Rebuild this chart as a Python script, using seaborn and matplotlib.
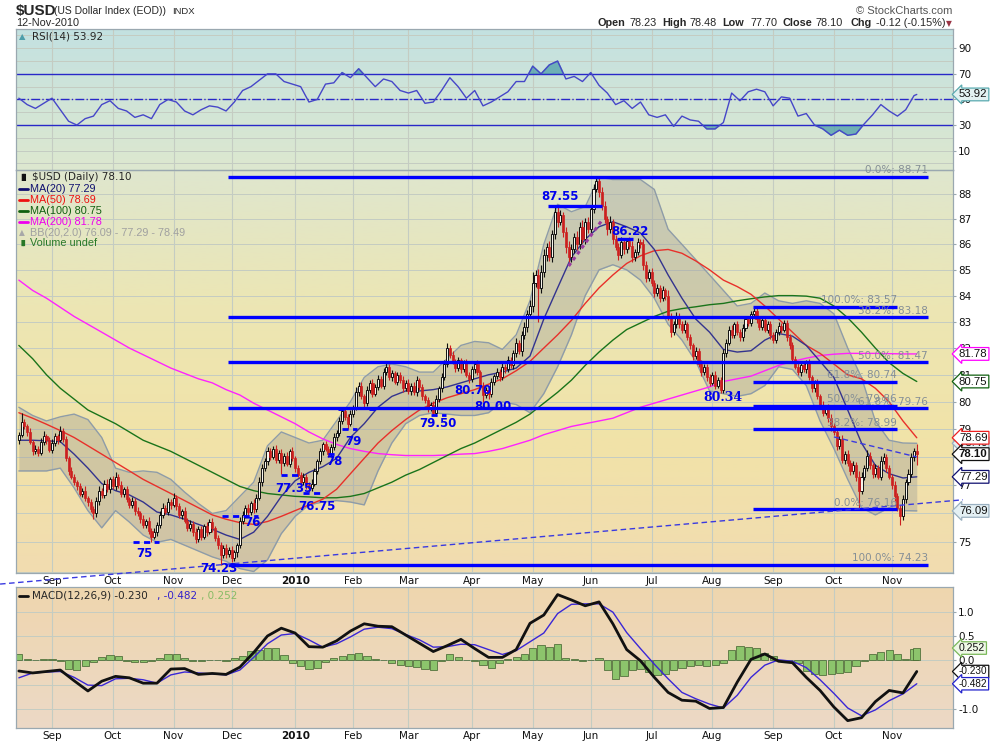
import numpy as np
import pandas as pd
import matplotlib
matplotlib.use('Agg')
import matplotlib.pyplot as plt
from matplotlib.colors import LinearSegmentedColormap
from matplotlib.lines import Line2D
import seaborn as sns

sns.set_style('white')
plt.rcParams['font.family'] = ['DejaVu Sans']
NARROW = ['Liberation Sans', 'DejaVu Sans']

# ---------------- data ----------------
days = pd.bdate_range('2009-08-14', '2010-11-12')   # trading days, 326
first_open = 78.60
close = [
    78.80, 79.25, 79.10, 78.90, 78.55, 78.20, 78.30, 78.15, 78.55, 78.75,
    78.60, 78.25, 78.50, 78.75, 78.60, 78.95, 78.65, 77.95, 77.50, 77.30,
    77.10, 76.95, 76.70, 76.80, 76.55, 76.40, 76.15, 76.00, 76.45, 76.80,
    76.65, 77.05, 76.85, 77.20, 76.95, 77.30, 77.00, 76.70, 76.85, 76.50,
    76.30, 76.45, 76.10, 76.00, 75.80, 75.60, 75.75, 75.40, 75.20, 75.35,
    75.60, 75.95, 76.20, 76.05, 76.40, 76.30, 76.55, 76.25, 75.95, 76.10,
    75.75, 75.50, 75.65, 75.35, 75.10, 75.45, 75.20, 75.55, 75.35, 75.70,
    75.50, 75.15, 74.90, 74.55, 74.80, 74.60, 74.75, 74.45, 74.65, 74.90,
    75.75, 75.95, 76.20, 76.05, 76.35, 76.15, 76.55, 77.10, 77.60, 77.85,
    78.20, 78.00, 78.30, 77.90, 78.15, 77.80, 78.05, 77.75, 78.20, 77.95,
    77.60, 77.35, 77.10, 77.30, 77.00, 76.90, 77.05, 77.50, 77.85, 78.20,
    78.45, 78.30, 78.10, 78.35, 78.70, 78.85, 79.30, 79.65, 79.45, 79.20,
    79.55, 79.80, 80.35, 80.60, 80.20, 79.95, 80.45, 80.70, 80.30, 80.55,
    80.85, 80.60, 81.10, 81.30, 80.90, 81.05, 80.75, 81.00, 80.80, 80.50,
    80.70, 80.40, 80.60, 80.35, 80.80, 80.55, 80.20, 80.05, 79.75, 79.90,
    79.60, 80.10, 80.50, 80.90, 81.40, 82.00, 81.75, 81.50, 81.25, 81.55,
    81.20, 81.45, 81.00, 80.85, 81.20, 81.40, 81.10, 80.60, 80.25, 80.45,
    80.30, 80.75, 80.95, 81.10, 80.90, 81.30, 81.20, 81.55, 81.35, 81.80,
    82.20, 81.90, 82.50, 82.80, 83.30, 83.60, 84.50, 84.80, 84.30, 84.90,
    85.60, 85.90, 85.50, 86.40, 87.30, 86.90, 87.15, 86.50, 85.90, 85.50,
    85.80, 86.30, 86.00, 86.70, 86.20, 86.90, 86.60, 87.40, 88.20, 88.55,
    88.10, 87.55, 87.00, 86.60, 86.90, 86.20, 85.90, 85.60, 86.10, 85.80,
    86.15, 85.95, 85.50, 85.70, 86.10, 86.00, 85.20, 84.70, 84.90, 84.50,
    84.10, 84.30, 83.90, 84.20, 84.00, 83.20, 82.60, 82.90, 83.20, 82.90,
    82.70, 82.90, 82.40, 82.10, 81.70, 81.90, 81.40, 81.10, 81.30, 80.90,
    80.70, 81.00, 80.60, 80.80, 80.45, 81.80, 82.20, 82.70, 82.50, 82.90,
    82.60, 82.40, 82.75, 83.10, 82.95, 83.30, 83.40, 83.10, 82.80, 83.05,
    82.70, 82.90, 82.50, 82.30, 82.60, 82.85, 82.70, 82.95, 82.40, 82.10,
    81.60, 81.30, 81.10, 81.35, 81.20, 81.45, 80.90, 80.50, 80.70, 80.20,
    79.90, 79.60, 79.80, 79.40, 79.10, 78.90, 78.40, 78.65, 77.90, 78.10,
    77.80, 77.50, 77.70, 77.30, 76.80, 77.30, 77.60, 78.05, 77.70, 77.40,
    77.60, 77.30, 77.85, 78.00, 77.60, 77.30, 77.00, 76.60, 76.20, 75.90,
    76.50, 77.10, 77.40, 78.00, 78.23, 78.10]
# wick lengths above / below the body, in hundredths
wick_up = [
    10, 35, 12, 8, 15, 6, 14, 9, 12, 18, 7, 10, 14, 11, 6, 15, 9, 12, 8, 14,
    10, 7, 13, 9, 15, 8, 12, 10, 14, 18, 9, 12, 16, 8, 11, 15, 10, 13, 7, 12,
    9, 14, 8, 11, 10, 13, 7, 12, 9, 15, 10, 12, 16, 8, 14, 10, 18, 9, 12, 7,
    11, 9, 13, 8, 14, 10, 12, 9, 15, 11, 13, 8, 10, 12, 9, 14, 8, 11, 10, 9,
    12, 15, 10, 14, 9, 16, 12, 18, 14, 10, 15, 12, 9, 14, 11, 13, 8, 12, 10, 15,
    9, 12, 10, 14, 8, 11, 15, 12, 9, 13, 10, 14, 8, 12, 15, 11, 13, 10, 9, 12,
    14, 10, 18, 12, 15, 9, 13, 10, 16, 11, 14, 12, 15, 20, 10, 13, 9, 12, 11, 14,
    10, 13, 9, 12, 15, 8, 11, 10, 14, 9, 12, 15, 10, 18, 14, 20, 12, 15, 10, 13,
    9, 12, 14, 10, 13, 11, 15, 9, 12, 10, 14, 12, 9, 15, 11, 13, 10, 16, 12, 14,
    18, 12, 15, 20, 14, 25, 40, 18, 22, 30, 20, 15, 25, 18, 25, 20, 22, 15, 18, 25,
    20, 15, 22, 18, 25, 14, 20, 18, 22, 16, 10, 18, 20, 14, 22, 12, 18, 15, 20, 12,
    7, 14, 18, 12, 15, 10, 20, 15, 12, 18, 10, 14, 12, 16, 9, 22, 15, 12, 18, 14,
    12, 15, 10, 14, 9, 13, 11, 15, 10, 12, 14, 9, 13, 10, 12, 18, 15, 12, 16, 10,
    14, 12, 15, 10, 13, 12, 17, 15, 12, 10, 14, 11, 13, 9, 12, 15, 10, 13, 11, 14,
    12, 10, 14, 9, 13, 11, 15, 10, 12, 14, 10, 13, 9, 12, 15, 11, 14, 10, 13, 12,
    15, 10, 14, 12, 18, 15, 12, 20, 14, 10, 15, 12, 18, 14, 10, 12, 9, 14, 11, 10,
    15, 12, 18, 14, 10, 25]
wick_dn = [
    12, 10, 8, 15, 9, 14, 10, 12, 8, 11, 14, 9, 12, 10, 15, 8, 12, 10, 14, 9,
    11, 13, 8, 12, 10, 15, 9, 20, 11, 14, 10, 12, 8, 13, 9, 12, 10, 14, 11, 9,
    12, 10, 14, 9, 13, 11, 10, 12, 20, 9, 13, 10, 12, 8, 11, 14, 9, 12, 10, 13,
    9, 12, 10, 14, 11, 9, 13, 10, 12, 8, 14, 10, 12, 32, 10, 13, 9, 12, 10, 15,
    8, 12, 10, 14, 9, 12, 10, 8, 12, 10, 15, 11, 9, 13, 10, 40, 12, 9, 11, 10,
    13, 5, 12, 9, 14, 15, 11, 10, 12, 9, 13, 10, 10, 12, 9, 14, 10, 12, 11, 20,
    10, 12, 9, 14, 11, 15, 10, 12, 13, 9, 12, 10, 14, 11, 9, 12, 10, 13, 9, 12,
    11, 10, 14, 9, 12, 10, 13, 9, 12, 10, 10, 12, 9, 14, 10, 12, 11, 9, 13, 10,
    12, 10, 9, 15, 11, 13, 10, 12, 25, 10, 20, 12, 14, 9, 12, 10, 13, 11, 9, 12,
    14, 12, 18, 15, 20, 14, 22, 18, 130, 20, 18, 25, 15, 20, 18, 22, 15, 20, 25, 18,
    20, 15, 22, 18, 16, 20, 14, 18, 15, 12, 20, 18, 15, 22, 14, 18, 12, 20, 15, 18,
    12, 15, 18, 14, 12, 15, 20, 18, 14, 12, 16, 13, 15, 12, 18, 14, 20, 12, 15, 13,
    12, 14, 10, 13, 15, 11, 12, 14, 10, 13, 12, 9, 14, 10, 11, 12, 15, 10, 13, 12,
    10, 14, 12, 9, 13, 11, 12, 15, 10, 13, 11, 12, 14, 10, 12, 9, 13, 11, 12, 14,
    13, 10, 12, 14, 11, 12, 10, 15, 12, 10, 14, 12, 10, 13, 15, 12, 14, 10, 13, 15,
    12, 14, 10, 15, 64, 12, 14, 10, 13, 15, 12, 10, 14, 12, 15, 10, 13, 15, 12, 30,
    12, 15, 10, 13, 14, 40]

# overlays sampled every 5 trading days
ma_days = list(range(0, 326, 5))
ma20 = [78.60, 78.60, 78.58, 78.55, 78.10, 77.60, 77.05, 76.80, 76.65, 76.40,
        76.05, 75.95, 75.80, 75.62, 75.45, 75.25, 75.10, 75.35, 75.90, 76.60,
        77.15, 77.45, 77.65, 77.95, 78.70, 79.20, 79.80, 80.20, 80.40, 80.40,
        80.45, 80.55, 80.70, 80.85, 81.00, 81.10, 81.25, 81.70, 83.10, 84.30,
        85.50, 86.20, 86.70, 86.90, 86.70, 86.45, 85.80, 84.80, 83.90, 83.10,
        82.60, 81.95, 81.85, 81.90, 82.30, 82.55, 82.45, 82.10, 81.50, 80.90,
        79.70, 78.50, 77.70, 77.40, 77.25, 77.29]
ma50 = [79.60, 79.40, 79.18, 78.95, 78.70, 78.40, 78.10, 77.80, 77.50, 77.20,
        76.95, 76.70, 76.45, 76.20, 75.95, 75.80, 75.68, 75.62, 75.72, 75.90,
        76.10, 76.30, 76.50, 76.85, 77.40, 77.95, 78.50, 78.95, 79.35, 79.70,
        79.95, 80.15, 80.30, 80.45, 80.65, 80.85, 81.15, 81.50, 82.00, 82.50,
        83.05, 83.70, 84.30, 84.80, 85.25, 85.55, 85.75, 85.80, 85.65, 85.35,
        85.00, 84.60, 84.35, 84.05, 83.60, 83.10, 82.60, 82.10, 81.80, 81.40,
        81.00, 80.85, 80.50, 80.00, 79.30, 78.69]
ma100 = [82.10, 81.60, 81.00, 80.50, 80.10, 79.70, 79.45, 79.20, 78.90, 78.60,
         78.40, 78.20, 77.95, 77.70, 77.45, 77.20, 76.95, 76.80, 76.70, 76.65,
         76.60, 76.58, 76.55, 76.55, 76.60, 76.70, 76.90, 77.10, 77.35, 77.55,
         77.80, 78.05, 78.30, 78.50, 78.75, 79.00, 79.25, 79.55, 79.95, 80.35,
         80.80, 81.35, 81.85, 82.30, 82.70, 82.95, 83.20, 83.40, 83.50, 83.57,
         83.65, 83.70, 83.80, 83.88, 83.95, 84.00, 84.00, 83.98, 83.90, 83.60,
         83.15, 82.60, 82.00, 81.45, 81.05, 80.75]
ma200 = [84.60, 84.20, 83.90, 83.55, 83.20, 82.90, 82.60, 82.30, 82.00, 81.75,
         81.50, 81.25, 81.05, 80.85, 80.70, 80.45, 80.25, 79.95, 79.70, 79.45,
         79.20, 78.90, 78.65, 78.45, 78.30, 78.20, 78.12, 78.08, 78.05, 78.05,
         78.05, 78.07, 78.10, 78.12, 78.20, 78.30, 78.45, 78.60, 78.80, 78.95,
         79.10, 79.20, 79.30, 79.40, 79.60, 79.80, 79.95, 80.10, 80.25, 80.40,
         80.55, 80.75, 80.85, 80.95, 81.15, 81.35, 81.50, 81.62, 81.72, 81.77,
         81.80, 81.80, 81.80, 81.79, 81.78, 81.78]
bb_upper = [79.80, 79.50, 79.30, 79.45, 79.55, 79.35, 78.70, 77.60, 77.45, 77.50,
            77.45, 77.20, 76.75, 76.35, 76.00, 76.10, 76.60, 77.10, 78.40, 78.90,
            78.70, 78.50, 78.60, 79.30, 80.00, 80.90, 81.30, 81.40, 81.30, 81.10,
            81.10, 81.60, 82.10, 82.25, 82.20, 81.95, 82.50, 83.80, 86.00, 87.60,
            87.30, 87.50, 88.70, 88.60, 88.60, 88.60, 88.20, 86.60, 86.00, 85.40,
            84.80, 84.20, 83.60, 83.70, 84.10, 83.80, 83.70, 83.80, 83.70, 83.30,
            82.00, 80.90, 79.30, 78.60, 78.50, 78.49]
bb_lower = [77.50, 77.50, 77.50, 77.60, 76.90, 76.10, 75.50, 76.10, 75.70, 75.25,
            75.00, 75.10, 74.90, 74.70, 74.50, 74.35, 74.10, 74.00, 74.40, 75.30,
            75.90, 76.30, 76.40, 76.45, 76.40, 76.30, 77.50, 78.50, 79.20, 79.50,
            79.60, 79.55, 79.50, 79.50, 79.60, 80.00, 79.90, 79.60, 80.30, 81.30,
            82.50, 84.00, 85.00, 85.20, 85.00, 84.60, 83.90, 82.90, 82.30, 81.50,
            80.40, 80.30, 80.20, 80.30, 80.60, 81.30, 81.20, 80.60, 79.30, 78.30,
            77.20, 76.20, 75.95, 76.20, 76.10, 76.09]
macd_line = [-0.22, -0.26, -0.23, -0.20, -0.42, -0.63, -0.43, -0.33, -0.36, -0.47,
             -0.47, -0.18, -0.17, -0.29, -0.27, -0.29, -0.14, 0.16, 0.50, 0.66,
             0.56, 0.28, 0.27, 0.40, 0.60, 0.75, 0.70, 0.69, 0.52, 0.35,
             0.18, 0.30, 0.43, 0.24, 0.06, 0.06, 0.22, 0.76, 0.93, 1.35,
             1.24, 1.12, 1.20, 0.75, 0.22, -0.01, -0.35, -0.66, -0.82, -0.84,
             -0.99, -0.97, -0.45, 0.02, 0.13, -0.02, -0.05, -0.35, -0.62, -0.96,
             -1.24, -1.18, -0.85, -0.62, -0.67, -0.230]
macd_signal = [-0.36, -0.26, -0.24, -0.23, -0.35, -0.51, -0.52, -0.38, -0.37, -0.40,
               -0.47, -0.30, -0.24, -0.26, -0.28, -0.30, -0.20, 0.06, 0.34, 0.52,
               0.55, 0.42, 0.27, 0.34, 0.48, 0.64, 0.68, 0.65, 0.53, 0.42,
               0.27, 0.28, 0.33, 0.32, 0.22, 0.12, 0.20, 0.38, 0.56, 0.96,
               1.15, 1.16, 1.16, 0.99, 0.57, 0.24, -0.08, -0.38, -0.66, -0.79,
               -0.90, -0.98, -0.72, -0.35, -0.10, 0.01, -0.02, -0.15, -0.40, -0.68,
               -0.98, -1.14, -1.02, -0.83, -0.69, -0.482]

# oscillators sampled every 3 trading days (+ last day)
osc_days = list(range(0, 325, 3)) + [325]
rsi = [51, 46, 43, 47, 51, 42, 33, 30, 35, 37,
       46, 49, 43, 41, 36, 38, 35, 46, 50, 48,
       41, 38, 42, 45, 44, 41, 48, 57, 60, 65,
       70, 70, 64, 62, 60, 48, 50, 62, 63, 71,
       67, 74, 67, 60, 66, 64, 57, 55, 57, 47,
       48, 57, 67, 60, 51, 57, 45, 48, 52, 56,
       64, 64, 76, 70, 77, 80, 66, 68, 64, 71,
       61, 55, 46, 49, 43, 48, 38, 36, 38, 29,
       37, 34, 33, 27, 27, 32, 55, 49, 56, 58,
       56, 45, 52, 51, 37, 39, 30, 27, 22, 26,
       22, 23, 31, 38, 46, 41, 37, 42, 53, 53.92]
macd_hist = [0.13, 0.02, 0.01, 0.03, 0.03, -0.02, -0.17, -0.19, -0.12, -0.03,
             0.06, 0.11, 0.08, -0.01, -0.03, -0.03, -0.02, 0.05, 0.12, 0.12,
             0.05, -0.01, -0.02, 0.01, 0.00, -0.01, 0.05, 0.09, 0.19, 0.22,
             0.26, 0.26, 0.10, -0.05, -0.12, -0.18, -0.15, -0.04, 0.05, 0.09,
             0.12, 0.16, 0.08, 0.02, 0.01, -0.05, -0.10, -0.12, -0.14, -0.17,
             -0.19, -0.02, 0.12, 0.06, 0.00, -0.02, -0.10, -0.15, -0.05, 0.02,
             0.06, 0.13, 0.25, 0.32, 0.28, 0.33, 0.04, 0.03, -0.02, 0.00,
             0.04, -0.20, -0.38, -0.33, -0.20, -0.17, -0.25, -0.30, -0.28, -0.20,
             -0.15, -0.12, -0.10, -0.12, -0.10, -0.05, 0.22, 0.30, 0.28, 0.25,
             0.15, 0.08, -0.01, 0.00, -0.05, -0.22, -0.28, -0.30, -0.28, -0.27,
             -0.24, -0.12, -0.02, 0.12, 0.18, 0.21, 0.12, 0.03, 0.24, 0.252]

# Fibonacci retracements
fib1_pct = ['0.0%', '38.2%', '50.0%', '61.8%', '100.0%']
fib1_val = [88.71, 83.18, 81.47, 79.76, 74.23]
fib2_pct = ['100.0%', '61.8%', '50.0%', '38.2%', '0.0%']
fib2_val = [83.57, 80.74, 79.86, 78.99, 76.16]

# hand-drawn annotations (text, trading day, price)
note_text = ['87.55', '86.22', '80.70', '80.00', '79.50', '79', '78', '77.35',
             '76.75', '76', '75', '74.23']
note_day = [196, 221, 164.4, 171.6, 151.7, 121, 114.4, 99.6, 108, 84.4, 45.3, 72.4]
note_val = [87.9, 86.5, 80.43, 79.82, 79.22, 78.55, 77.82, 76.89, 76.24, 75.67, 74.63, 74.09]
solid_marks = [(191.5, 211, 87.55), (216.5, 222.3, 86.22)]
dash_marks = [(149, 154.6, 79.5), (117, 122.4, 79.0), (112, 115, 78.1), (95, 102.5, 77.35),
              (103, 109, 76.72), (73.5, 86.6, 75.9), (41.3, 50.7, 75.0),
              (115.5, 119, 79.75), (126.7, 130, 79.75)]
trend_days, trend_vals = [73, 304], [74.23, 76.16]
down_days, down_vals = [295, 325], [78.72, 78.0]
rise_days, rise_vals = [199, 211], [85.15, 86.95]

# ---------------- layout ----------------
W, H = 990, 744
fig = plt.figure(figsize=(W / 100, H / 100), dpi=100)
fig.patch.set_facecolor('white')


def rect(l, t, r, b):
    return [l / W, 1 - b / H, (r - l) / W, (b - t) / H]


def panel(r, colors):
    bg = fig.add_axes(r, zorder=0)
    cmap = LinearSegmentedColormap.from_list('g', colors)
    bg.imshow(np.linspace(0, 1, 256)[:, None], cmap=cmap, aspect='auto',
              extent=[0, 1, 0, 1], origin='upper')
    bg.set_axis_off()
    ax = fig.add_axes(r, zorder=1)
    ax.patch.set_alpha(0)
    for s in ax.spines.values():
        s.set_edgecolor('#9aa8b0')
        s.set_linewidth(0.9)
    return ax


ax_rsi = panel(rect(16, 29.3, 952.7, 170), ['#c3e1e1', '#dde8cf'])
ax = panel(rect(16, 170, 952.7, 572.7), ['#dfe6ce', '#ece6b4', '#f1e3a8', '#f1dcb0'])
ax_m = panel(rect(16, 587.3, 952.7, 727.7), ['#efd6ae', '#ecd9c6'])

xlim = (-1.03, 338.0)
month_pos = [i for i in range(1, len(days)) if days[i].month != days[i - 1].month]
month_lab = [days[i].strftime('%b') if days[i].month != 1 else str(days[i].year)
             for i in month_pos]
grid_c = '#c4ccc2'

for a in (ax_rsi, ax, ax_m):
    a.set_xlim(*xlim)
    for p in month_pos:
        a.axvline(p, color=grid_c, lw=0.8, zorder=0.5)
    a.yaxis.tick_right()
    a.tick_params(axis='y', length=2, pad=2, labelsize=7.5, colors='#9aa8b0',
                  labelcolor='#111111')
    a.set_xlabel('')
    a.set_ylabel('')

# ---------------- RSI ----------------
rd = np.array(osc_days)
rv = np.array(rsi, dtype=float)
for g in range(0, 101, 10):
    ax_rsi.axhline(g, color=grid_c, lw=0.7, zorder=0.5)
sns.lineplot(x=rd, y=rv, ax=ax_rsi, color='#4646c8', lw=1.0, zorder=3)
ax_rsi.fill_between(rd, rv, 70, where=rv > 70, interpolate=True, color='#4e9eaa', alpha=0.75, zorder=2)
ax_rsi.fill_between(rd, rv, 30, where=rv < 30, interpolate=True, color='#4e9eaa', alpha=0.75, zorder=2)
ax_rsi.axhline(70, color='#2828c8', lw=1.0, zorder=2)
ax_rsi.axhline(30, color='#2828c8', lw=1.0, zorder=2)
ax_rsi.axhline(50, color='#2828c8', lw=1.0, ls='-.', zorder=2)
ax_rsi.set_ylim(-5.1, 104.8)
ax_rsi.set_yticks([10, 30, 50, 70, 90])
ax_rsi.set_xticks([])

# ---------------- price ----------------
ax.set_yscale('log')
for g in range(74, 90):
    ax.axhline(g, color=grid_c, lw=0.7, zorder=0.5)

md = np.array(ma_days)
ax.fill_between(md, bb_lower, bb_upper, color='#9c9c98', alpha=0.38, lw=0, zorder=1)
sns.lineplot(x=md, y=bb_upper, ax=ax, color='#8e9ca8', lw=1.0, zorder=1.5)
sns.lineplot(x=md, y=bb_lower, ax=ax, color='#8e9ca8', lw=1.0, zorder=1.5)
sns.lineplot(x=md, y=ma200, ax=ax, color='#ff22ff', lw=1.0, zorder=3)
sns.lineplot(x=md, y=ma100, ax=ax, color='#1a741a', lw=1.0, zorder=3)
sns.lineplot(x=md, y=ma50, ax=ax, color='#e8302a', lw=1.0, zorder=3)
sns.lineplot(x=md, y=ma20, ax=ax, color='#33338e', lw=1.0, zorder=3)

c = np.array(close)
o = np.array([first_open] + close[:-1])
hi = np.maximum(o, c) + np.array(wick_up) / 100
lo = np.minimum(o, c) - np.array(wick_dn) / 100
idx = np.arange(len(c))
up = c >= o
body_lo = np.minimum(o, c)
body_h = np.maximum(np.abs(c - o), 0.02)
ax.vlines(idx[up], lo[up], hi[up], colors='#111111', lw=0.8, zorder=4)
ax.vlines(idx[~up], lo[~up], hi[~up], colors='#cc2020', lw=0.8, zorder=4)
ax.bar(idx[up], body_h[up], bottom=body_lo[up], width=0.75, color='#f7f5ec',
       edgecolor='#111111', lw=0.7, zorder=4.5)
ax.bar(idx[~up], body_h[~up], bottom=body_lo[~up], width=0.75, color='#cc2020',
       edgecolor='#cc2020', lw=0.5, zorder=4.5)

# fib lines
ax.hlines(fib1_val, 75.7, 329, colors='#0000ff', lw=2.4, zorder=5)
ax.hlines(fib2_val, 265.7, 317.8, colors='#0000ff', lw=2.4, zorder=5)
for p, v in zip(fib1_pct, fib1_val):
    ax.annotate(f'{p}: {v:.2f}', (329, v), xytext=(0, 1), textcoords='offset points',
                ha='right', va='bottom', fontsize=7.5, color='#858f96', zorder=6,
                annotation_clip=False)
for p, v in zip(fib2_pct, fib2_val):
    ax.annotate(f'{p}: {v:.2f}', (317.8, v), xytext=(0, 1), textcoords='offset points',
                ha='right', va='bottom', fontsize=7.5, color='#858f96', zorder=6)


# trend lines (straight on the log scale)
def extend(d, v, x0, x1):
    b = (np.log(v[1]) - np.log(v[0])) / (d[1] - d[0])
    return [v[0] * np.exp(b * (x0 - d[0])), v[0] * np.exp(b * (x1 - d[0]))]


ax.plot([-6.8, 341.7], extend(trend_days, trend_vals, -6.8, 341.7), color='#3a3ae0',
        lw=1.0, ls=(0, (4, 2.5)), clip_on=False, zorder=5)
ax.plot(down_days, down_vals, color='#3a3ae0', lw=1.0, ls=(0, (4, 2.5)), zorder=5)
ax.plot(rise_days, rise_vals, color='#9a3aa0', lw=2.2, ls=(0, (1.2, 1.2)), zorder=5)

for x0, x1, v in solid_marks:
    ax.hlines(v, x0, x1, colors='#0000ff', lw=2.4, zorder=6)
for x0, x1, v in dash_marks:
    ax.hlines(v, x0, x1, colors='#0000ff', lw=2.0, linestyles=(0, (2.2, 1.6)), zorder=6)
for t, d, v in zip(note_text, note_day, note_val):
    ax.text(d, v, t, ha='center', va='center', fontsize=8.5, fontweight='bold',
            color='#0000ee', zorder=7, clip_on=False)
ax.text(254.9, 80.15, '80.34', ha='center', va='center', fontsize=9, fontweight='bold',
        family='DejaVu Serif', color='#0000ee', zorder=7)

ax.set_ylim(73.96, 88.99)
ax.set_yticks(list(range(75, 89)))
ax.set_yticklabels([str(v) for v in range(75, 89)])
ax.yaxis.set_minor_locator(matplotlib.ticker.NullLocator())
ax.set_xlim(*xlim)

# ---------------- MACD ----------------
for g in (-1.0, -0.5, 0.0, 0.5, 1.0):
    ax_m.axhline(g, color=grid_c, lw=0.7, zorder=0.5)
ax_m.bar(osc_days, macd_hist, width=2.6, color='#8cc46c', edgecolor='#3f5f2c', lw=0.5, zorder=2)
sns.lineplot(x=md, y=macd_signal, ax=ax_m, color='#3a26d6', lw=1.0, zorder=3)
sns.lineplot(x=md, y=macd_line, ax=ax_m, color='#111111', lw=2.0, zorder=4)
ax_m.set_ylim(-1.385, 1.50)
ax_m.set_yticks([-1.0, 0.0, 0.5, 1.0])
ax_m.set_yticklabels(['-1.0', '0.0', '0.5', '1.0'])
ax_m.set_xlim(*xlim)

for a in (ax, ax_m):
    a.set_xticks(month_pos)
    a.set_xticklabels(month_lab)
    a.tick_params(axis='x', length=0, pad=2.5, labelsize=7.5, labelcolor='#111111')
    for lab in a.get_xticklabels():
        if lab.get_text() == '2010':
            lab.set_fontweight('bold')


# ---------------- value tags ----------------
def tag(a, val, txt, ec, fc='white', bold=False, size=8.2):
    a.annotate(txt, xy=(1, val), xycoords=a.get_yaxis_transform(), xytext=(4.5, 0),
               textcoords='offset points', ha='left', va='center', fontsize=size,
               family=NARROW, fontweight='bold' if bold else 'normal', color='#111111',
               bbox=dict(boxstyle='larrow,pad=0.12', fc=fc, ec=ec, lw=0.9),
               annotation_clip=False, zorder=10)


tag(ax_rsi, rsi[-1], f'{rsi[-1]:.2f}', '#5aaab0', '#e2f2f2')
tag(ax, ma200[-1], f'{ma200[-1]:.2f}', '#ff00ff')
tag(ax, ma100[-1], f'{ma100[-1]:.2f}', '#106010')
tag(ax, bb_upper[-1], f'{bb_upper[-1]:.2f}', '#9ab0c0', '#e4f0f4')
tag(ax, ma50[-1], f'{ma50[-1]:.2f}', '#ee2020')
tag(ax, close[-1], f'{close[-1]:.2f}', '#111111', bold=True)
tag(ax, ma20[-1], f'{ma20[-1]:.2f}', '#101070')
tag(ax, bb_lower[-1], f'{bb_lower[-1]:.2f}', '#9ab0c0', '#e4f0f4')
tag(ax_m, macd_hist[-1], f'{macd_hist[-1]:.3f}', '#7ab85a', '#eef8e6', size=7.6)
tag(ax_m, macd_line[-1], f'{macd_line[-1]:.3f}', '#111111', size=7.2)
tag(ax_m, macd_signal[-1], f'{macd_signal[-1]:.3f}', '#2222cc', size=7.2)


# ---------------- header & legends ----------------
def fx(px):
    return px / W


def fy(py):
    return 1 - py / H


fig.text(fx(16), fy(11), '$USD', fontsize=11, fontweight='bold', va='center', family=NARROW)
fig.text(fx(54), fy(11), '(US Dollar Index (EOD))', fontsize=7.5, va='center', family=NARROW)
fig.text(fx(172), fy(11), 'INDX', fontsize=6.8, va='center', family=NARROW)
fig.text(fx(16), fy(23.5), '12-Nov-2010', fontsize=7.8, va='center', family=NARROW)
fig.text(fx(952), fy(10.5), '\u00a9 StockCharts.com', fontsize=8, va='center', ha='right',
         color='#555555', family=NARROW)
hdr = [(597.7, 'Open', True), (630, '78.23', False), (662, 'High', True), (690, '78.48', False),
       (722.7, 'Low', True), (750.7, '77.70', False), (782.7, 'Close', True),
       (815, '78.10', False), (850.7, 'Chg', True), (875.7, '-0.12 (-0.15%)', False)]
for x, t, b in hdr:
    fig.text(fx(x), fy(23.5), t, fontsize=7.8, va='center', family=NARROW,
             fontweight='bold' if b else 'normal')
fig.text(fx(946), fy(24), '\u25bc', fontsize=5.5, va='center', color='#993344')

fig.text(fx(32), fy(36.5), 'RSI(14) 53.92', fontsize=7.5, va='center')
fig.text(fx(19), fy(36.5), '\u25b2', fontsize=6, va='center', color='#4e9eaa')

fig.text(fx(32), fy(177.5), '$USD (Daily) 78.10', fontsize=7.5, va='center')
fig.text(fx(18), fy(177.5), '\u2590\u258c', fontsize=5, va='center', color='#111111')
leg = [('MA(20) 77.29', '#101070'), ('MA(50) 78.69', '#ee1010'),
       ('MA(100) 80.75', '#106010'), ('MA(200) 81.78', '#ee00ee')]
for k, (t, col) in enumerate(leg):
    yy = 188.7 + 11 * k
    fig.lines.append(Line2D([fx(19), fx(28)], [fy(yy), fy(yy)], color=col, lw=2,
                            transform=fig.transFigure))
    fig.text(fx(30), fy(yy), t, fontsize=7.8, va='center', color=col, family=NARROW)
fig.text(fx(30), fy(232.5), 'BB(20,2.0) 76.09 - 77.29 - 78.49', fontsize=7.8, va='center',
         color='#a0a0a0', family=NARROW)
fig.text(fx(19), fy(232.5), '\u25b2', fontsize=5.5, va='center', color='#a8a8a8')
fig.text(fx(30), fy(243), 'Volume undef', fontsize=7.8, va='center', color='#287828',
         family=NARROW)
fig.text(fx(19), fy(243), '\u2590\u258c', fontsize=4.5, va='center', color='#287828')

fig.lines.append(Line2D([fx(19), fx(28)], [fy(595.5), fy(595.5)], color='#111111', lw=2,
                        transform=fig.transFigure))
fig.text(fx(32), fy(595.5), 'MACD(12,26,9) -0.230', fontsize=7.5, va='center')
fig.text(fx(157), fy(595.5), ', -0.482', fontsize=7.5, va='center', color='#3322cc')
fig.text(fx(201), fy(595.5), ', 0.252', fontsize=7.5, va='center', color='#88bb66')

fig.savefig('out.png', dpi=100, facecolor='white')
